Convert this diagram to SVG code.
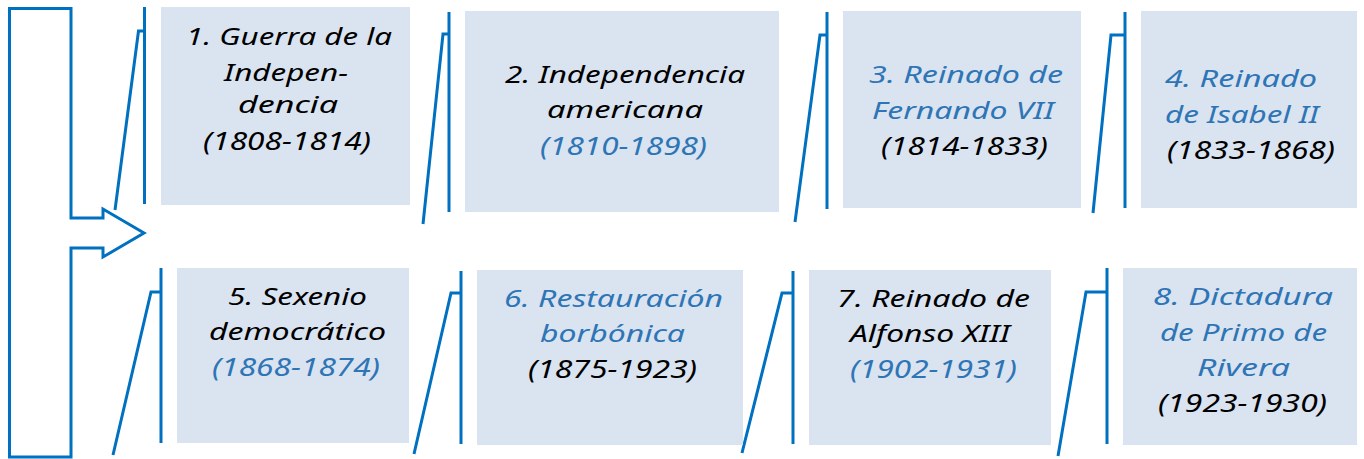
<svg xmlns="http://www.w3.org/2000/svg" width="1364" height="459" viewBox="0 0 1364 459">
<style>
.box{fill:#DAE3F0;}
.ln{fill:none;stroke:#0070C0;stroke-width:3;}
text{font-family:"Noto Sans","DejaVu Sans",sans-serif;font-style:italic;font-size:24px;}
.k{fill:#000;}
.b{fill:#2E75B6;}
.yr{font-size:25px;}
</style>
<rect width="1364" height="459" fill="#fff"/>
<g id="main-arrow">
<path class="ln" d="M9.5,8.5 H71 V218 H103 V209 L144,233 L103,257 V248 H71 V457 H9.5 Z"/>
</g>
<g id="connectors">
<path class="ln" d="M115,210 L138.5,31 H144.5 M144.5,7 V204"/>
<path class="ln" d="M423,224 L443,34 H449 M449,12 V212"/>
<path class="ln" d="M795,222 L820,35 H827 M827,12 V209"/>
<path class="ln" d="M1093,213 L1111,35 H1125 M1125,12 V208"/>
<path class="ln" d="M113,455 L151,292 H161 M161,268 V443"/>
<path class="ln" d="M414,454 L451,293 H461 M461,271 V444"/>
<path class="ln" d="M742,453 L782,293 H793 M793,271 V444"/>
<path class="ln" d="M1058,456 L1086,292 H1107 M1107,268 V444"/>
</g>
<g id="node1">
<rect class="box" x="161" y="7" width="249" height="198"/>
<text class="k" x="186" y="45" textLength="206" lengthAdjust="spacingAndGlyphs">1. Guerra de la</text>
<text class="k" x="224" y="81" textLength="124" lengthAdjust="spacingAndGlyphs">Indepen-</text>
<text class="k" x="238" y="113" textLength="100" lengthAdjust="spacingAndGlyphs">dencia</text>
<text class="k yr" x="203" y="150" textLength="168" lengthAdjust="spacingAndGlyphs">(1808-1814)</text>
</g>
<g id="node2">
<rect class="box" x="465" y="11" width="314" height="201"/>
<text class="k" x="505" y="83" textLength="240" lengthAdjust="spacingAndGlyphs">2. Independencia</text>
<text class="k" x="547" y="118" textLength="156" lengthAdjust="spacingAndGlyphs">americana</text>
<text class="b yr" x="540" y="155" textLength="167" lengthAdjust="spacingAndGlyphs">(1810-1898)</text>
</g>
<g id="node3">
<rect class="box" x="843" y="11" width="238" height="197"/>
<text class="b" x="869" y="83" textLength="194" lengthAdjust="spacingAndGlyphs">3. Reinado de</text>
<text class="b" x="872" y="119" textLength="182" lengthAdjust="spacingAndGlyphs">Fernando VII</text>
<text class="k yr" x="881" y="155" textLength="167" lengthAdjust="spacingAndGlyphs">(1814-1833)</text>
</g>
<g id="node4">
<rect class="box" x="1141" y="11" width="216" height="197"/>
<text class="b" x="1165" y="87" textLength="152" lengthAdjust="spacingAndGlyphs">4. Reinado</text>
<text class="b" x="1165" y="123" textLength="154" lengthAdjust="spacingAndGlyphs">de Isabel II</text>
<text class="k yr" x="1167" y="159" textLength="168" lengthAdjust="spacingAndGlyphs">(1833-1868)</text>
</g>
<g id="node5">
<rect class="box" x="177" y="268" width="232" height="175"/>
<text class="k" x="228" y="305" textLength="139" lengthAdjust="spacingAndGlyphs">5. Sexenio</text>
<text class="k" x="209" y="340" textLength="177" lengthAdjust="spacingAndGlyphs">democrático</text>
<text class="b yr" x="212" y="376" textLength="168" lengthAdjust="spacingAndGlyphs">(1868-1874)</text>
</g>
<g id="node6">
<rect class="box" x="477" y="270" width="266" height="175"/>
<text class="b" x="504" y="307" textLength="219" lengthAdjust="spacingAndGlyphs">6. Restauración</text>
<text class="b" x="540" y="342" textLength="145" lengthAdjust="spacingAndGlyphs">borbónica</text>
<text class="k yr" x="528" y="378" textLength="169" lengthAdjust="spacingAndGlyphs">(1875-1923)</text>
</g>
<g id="node7">
<rect class="box" x="809" y="270" width="242" height="175"/>
<text class="k" x="837" y="307" textLength="193" lengthAdjust="spacingAndGlyphs">7. Reinado de</text>
<text class="k" x="850" y="342" textLength="160" lengthAdjust="spacingAndGlyphs">Alfonso XIII</text>
<text class="b yr" x="850" y="378" textLength="167" lengthAdjust="spacingAndGlyphs">(1902-1931)</text>
</g>
<g id="node8">
<rect class="box" x="1123" y="268" width="234" height="177"/>
<text class="b" x="1153" y="305" textLength="180" lengthAdjust="spacingAndGlyphs">8. Dictadura</text>
<text class="b" x="1160" y="341" textLength="167" lengthAdjust="spacingAndGlyphs">de Primo de</text>
<text class="b" x="1197" y="376" textLength="93" lengthAdjust="spacingAndGlyphs">Rivera</text>
<text class="k yr" x="1158" y="412" textLength="169" lengthAdjust="spacingAndGlyphs">(1923-1930)</text>
</g>
</svg>
